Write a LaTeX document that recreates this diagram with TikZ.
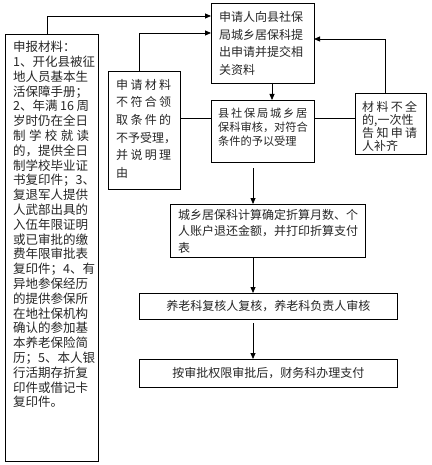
\documentclass[tikz,border=0pt]{standalone}
\usepackage{fontspec}
\setmainfont{Noto Sans CJK SC}
\usetikzlibrary{arrows.meta}
\newcommand\spreadln[2]{\makebox[#1][s]{#2}}
\begin{document}
\begin{tikzpicture}[x=1pt,y=-1pt,
  box/.style={draw=black, line width=0.8pt, anchor=north west, inner sep=0pt},
  txt/.style={anchor=north west, inner sep=0pt, align=left, text=black!85},
  ctxt/.style={anchor=center, inner sep=0pt, text=black!85, font=\fontsize{12}{14}\selectfont},
  arr/.style={draw=black, line width=0.8pt, -{Triangle[length=6pt,width=5pt]}},
  ln/.style={draw=black, line width=0.8pt}]
\useasboundingbox[fill=white] (0,0) rectangle (431,465);

% boxes
\node[box, minimum width=93pt, minimum height=427pt] (left) at (5,34) {};
\node[box, minimum width=103pt, minimum height=80pt] (top) at (211,3) {};
\node[box, minimum width=72pt, minimum height=118pt] (rej) at (108,71) {};
\node[box, minimum width=103pt, minimum height=62pt] (mid) at (211,100) {};
\node[box, minimum width=71pt, minimum height=61pt] (rgt) at (355,93) {};
\node[box, minimum width=195pt, minimum height=53pt] (calc) at (170,204) {};
\node[box, minimum width=258pt, minimum height=26pt] (rev) at (139,293) {};
\node[box, minimum width=258pt, minimum height=28pt] (pay) at (139,359) {};

% texts
\node[txt, font=\fontsize{12.5}{14.8}\selectfont] (lefttxt) at (13,41) {%
申报材料：\\
1、开化县被征\\
地人员基本生\\
活保障手册；\\
\spreadln{76pt}{2、年满\hfill 16\hfill 周}\\
岁时仍在全日\\
\spreadln{76pt}{制\hfill 学\hfill 校\hfill 就\hfill 读}\\
的，提供全日\\
制学校毕业证\\
书复印件；3、\\
复退军人提供\\
人武部出具的\\
入伍年限证明\\
或已审批的缴\\
费年限审批表\\
复印件；4、有\\
异地参保经历\\
的提供参保所\\
在地社保机构\\
确认的参加基\\
本养老保险简\\
历；5、本人银\\
行活期存折复\\
印件或借记卡\\
复印件。};

\node[txt, font=\fontsize{12}{17.8}\selectfont] (toptxt) at (219,11) {%
申请人向县社保\\
局城乡居保科提\\
出申请并提交相\\
关资料};

\node[txt, font=\fontsize{12}{17.6}\selectfont] (rejtxt) at (116,79) {%
\spreadln{55pt}{申\hfill 请\hfill 材\hfill 料}\\
\spreadln{55pt}{不\hfill 符\hfill 合\hfill 领}\\
\spreadln{55pt}{取\hfill 条\hfill 件\hfill 的}\\
不予受理，\\
\spreadln{55pt}{并\hfill 说\hfill 明\hfill 理}\\
由};

\node[txt, font=\fontsize{11.2}{14}\selectfont] (midtxt) at (218,107.5) {%
\spreadln{89pt}{县\hfill 社\hfill 保\hfill 局\hfill 城\hfill 乡\hfill 居}\\
保科审核，对符合\\
条件的予以受理};

\node[txt, font=\fontsize{12}{13}\selectfont] (rgttxt) at (362,101) {%
\spreadln{55pt}{材\hfill 料\hfill 不\hfill 全}\\
的,一次性\\
\spreadln{55pt}{告\hfill 知\hfill 申\hfill 请}\\
人补齐};

\node[txt, font=\fontsize{12}{16.5}\selectfont] (calctxt) at (178,209) {%
城乡居保科计算确定折算月数、个\\
人账户退还金额，并打印折算支付\\
表};

\node[ctxt] (revtxt) at (rev.center) {养老科复核人复核，养老科负责人审核};
\node[ctxt] (paytxt) at (pay.center) {按审批权限审批后，财务科办理支付};

% connector points
\coordinate (a1) at (47,34);   \coordinate (a2) at (211,16);
\coordinate (b1) at (139,71);  \coordinate (b2) at (211,33);
\coordinate (c1) at (180,118); \coordinate (c2) at (211,118);
\coordinate (d1) at (314,118); \coordinate (d2) at (355,118);
\coordinate (e1) at (385,93);  \coordinate (e2) at (314,39);
\coordinate (f1) at (272,83);  \coordinate (f2) at (272,100);
\coordinate (g1) at (253,168); \coordinate (g2) at (253,204);
\coordinate (h1) at (253,257); \coordinate (h2) at (253,293);
\coordinate (i1) at (253,323); \coordinate (i2) at (253,359);

\draw[arr] (a1) |- (a2);
\draw[arr] (b1) |- (b2);
\draw[ln] (c1) -- (c2);
\draw[ln] (d1) -- (d2);
\draw[arr] (e1) |- (e2);
\draw[arr] (f1) -- (f2);
\draw[arr] (g1) -- (g2);
\draw[arr] (h1) -- (h2);
\draw[arr] (i1) -- (i2);
\end{tikzpicture}
\end{document}
